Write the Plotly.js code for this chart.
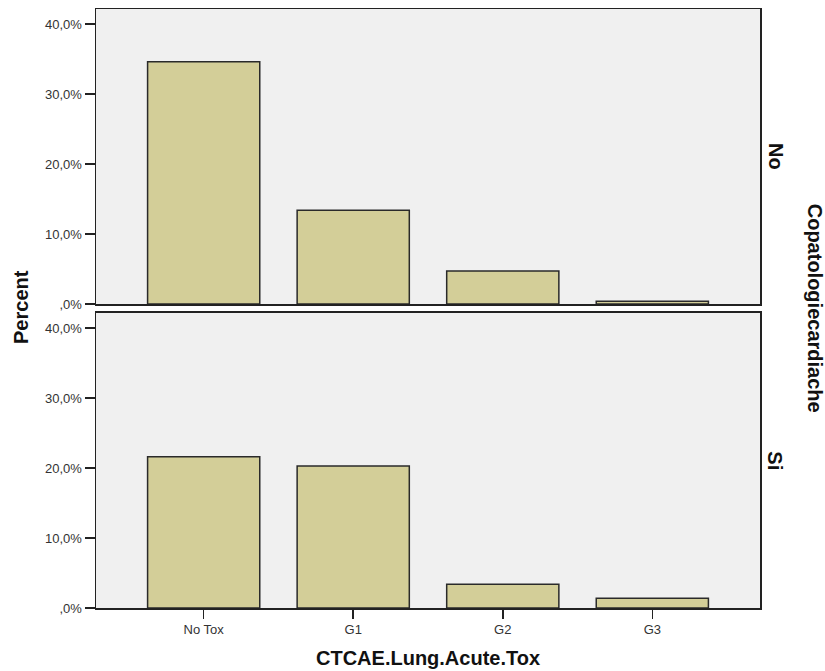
<!DOCTYPE html>
<html>
<head>
<meta charset="utf-8">
<script src="https://cdn.plot.ly/plotly-3.0.1.min.js"></script>
<style>html,body{margin:0;padding:0;background:#fff;}#chart{width:825px;height:671px;}</style>
</head>
<body>
<div id="chart"></div>
<script>
var categories = ["No Tox", "G1", "G2", "G3"];
var percentNo = [34.6, 13.4, 4.7, 0.4];
var percentSi = [21.6, 20.3, 3.4, 1.4];
var panelLabels = ["No", "Si"];
var tickValues = [0, 10, 20, 30, 40];
var tickLabels = [",0%", "10,0%", "20,0%", "30,0%", "40,0%"];

var barStyle = {color: "#d3ce98", line: {color: "#2a2a2a", width: 1.5}};

var traces = [
  {type: "bar", x: categories, y: percentNo, xaxis: "x2", yaxis: "y2", width: 0.75, marker: barStyle, hoverinfo: "x+y"},
  {type: "bar", x: categories, y: percentSi, xaxis: "x", yaxis: "y", width: 0.75, marker: barStyle, hoverinfo: "x+y"}
];

var FAM = "Liberation Sans, Arial, sans-serif";
var tickFont = {family: FAM, size: 13, color: "#333333"};
var titleFont = {family: FAM, size: 20, color: "#111111"};

var yCommon = {
  range: [0, 42.14], tickvals: tickValues, ticktext: tickLabels,
  ticks: "outside", ticklen: 10, tickwidth: 1.5, tickcolor: "#222",
  showline: true, mirror: true, linecolor: "#222", linewidth: 1.5,
  showgrid: false, zeroline: false, tickfont: tickFont, fixedrange: true
};
var xCommon = {
  range: [-0.72, 3.72], showline: true, mirror: true, linecolor: "#222", linewidth: 1.5,
  showgrid: false, zeroline: false, tickfont: tickFont, fixedrange: true
};

var layout = {
  width: 825, height: 671,
  margin: {l: 96, r: 65, t: 9, b: 63},
  paper_bgcolor: "#ffffff", plot_bgcolor: "#f0f0f0",
  showlegend: false, bargap: 0,
  font: tickFont,
  xaxis: Object.assign({}, xCommon, {anchor: "y", ticks: "outside", ticklen: 9, tickwidth: 1.5, tickcolor: "#222"}),
  xaxis2: Object.assign({}, xCommon, {anchor: "y2", showticklabels: false, ticks: ""}),
  yaxis: Object.assign({}, yCommon, {domain: [0, 0.4925], anchor: "x"}),
  yaxis2: Object.assign({}, yCommon, {domain: [0.5075, 1], anchor: "x2"}),
  annotations: [
    {text: "<b>CTCAE.Lung.Acute.Tox</b>", xref: "paper", yref: "paper", x: 0.5, y: -0.0835, xanchor: "center", yanchor: "middle",
      showarrow: false, font: titleFont},
    {text: "<b>Percent</b>", xref: "paper", yref: "paper", x: -0.113, y: 0.5025, xanchor: "center", yanchor: "middle",
      textangle: -90, showarrow: false, font: titleFont},
    {text: "<b>" + panelLabels[0] + "</b>", xref: "paper", yref: "paper", x: 1.023, y: 0.754, xanchor: "center", yanchor: "middle",
      textangle: 90, showarrow: false, font: titleFont},
    {text: "<b>" + panelLabels[1] + "</b>", xref: "paper", yref: "paper", x: 1.023, y: 0.246, xanchor: "center", yanchor: "middle",
      textangle: 90, showarrow: false, font: titleFont},
    {text: "<b>Copatologiecardiache</b>", xref: "paper", yref: "paper", x: 1.084, y: 0.5, xanchor: "center", yanchor: "middle",
      textangle: 90, showarrow: false, font: titleFont}
  ]
};

Plotly.newPlot("chart", traces, layout, {displayModeBar: false, staticPlot: true});
</script>
</body>
</html>
